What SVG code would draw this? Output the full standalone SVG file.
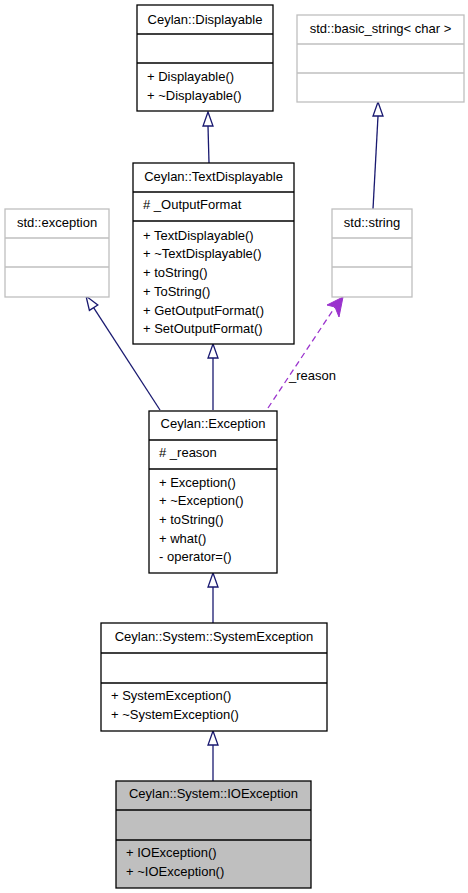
<svg xmlns="http://www.w3.org/2000/svg" width="468" height="893" viewBox="0 0 468 893">
<style>
text{font-family:"Liberation Sans",Arial,Helvetica,sans-serif;font-size:13px;fill:#000}
.t{text-anchor:middle}
.box{fill:#fff;stroke:#000;stroke-width:1.3}
.grey{fill:#fff;stroke:#bfbfbf;stroke-width:1.3}
.sel{fill:#bfbfbf;stroke:#000;stroke-width:1.3}
.sep{stroke:#000;stroke-width:1.3}
.gsep{stroke:#bfbfbf;stroke-width:1.3}
.e{fill:none;stroke:#191970;stroke-width:1.3}
.ah{fill:#fff;stroke:#191970;stroke-width:1.3}
.d{fill:none;stroke:#9a32cd;stroke-width:1.3;stroke-dasharray:6,4}
</style>
<rect width="468" height="893" fill="#fff"/>
<g id="connectors">
<path class="e" d="M209,163 L208,126"/>
<polygon class="ah" points="208,112 203,126 213,126"/>
<path class="e" d="M373,209 L378,116"/>
<polygon class="ah" points="378,102 373,116 383,116"/>
<path class="e" d="M160,410 L93.6,307.7"/>
<polygon class="ah" points="86,296 89.4,310.4 97.8,305"/>
<path class="e" d="M213,410 L213,358"/>
<polygon class="ah" points="213,344 208,358 218,358"/>
<path class="d" d="M268,408 L335,307"/>
<polygon points="343,297 327,305 335,307 339,317" fill="#9a32cd" stroke="#9a32cd" stroke-width="1" stroke-linejoin="miter"/>
<text x="289" y="380">_reason</text>
<path class="e" d="M213,623 L213,587"/>
<polygon class="ah" points="213,573 208,587 218,587"/>
<path class="e" d="M213,781 L213,745"/>
<polygon class="ah" points="213,731 208,745 218,745"/>
</g>
<g id="Displayable">
<rect class="box" x="137" y="5" width="136" height="106"/>
<line class="sep" x1="137" y1="34" x2="273" y2="34"/>
<line class="sep" x1="137" y1="63" x2="273" y2="63"/>
<text class="t" x="205" y="24">Ceylan::Displayable</text>
<text x="147" y="81">+ Displayable()</text>
<text x="147" y="100">+ ~Displayable()</text>
</g>
<g id="basic_string">
<rect class="grey" x="297" y="15" width="167" height="87"/>
<line class="gsep" x1="297" y1="44" x2="464" y2="44"/>
<line class="gsep" x1="297" y1="73" x2="464" y2="73"/>
<text class="t" x="380.5" y="33">std::basic_string&lt; char &gt;</text>
</g>
<g id="TextDisplayable">
<rect class="box" x="133" y="163" width="161" height="181"/>
<line class="sep" x1="133" y1="192" x2="294" y2="192"/>
<line class="sep" x1="133" y1="221" x2="294" y2="221"/>
<text class="t" x="213.5" y="181">Ceylan::TextDisplayable</text>
<text x="143" y="209"># _OutputFormat</text>
<text x="143" y="240">+ TextDisplayable()</text>
<text x="143" y="258">+ ~TextDisplayable()</text>
<text x="143" y="277">+ toString()</text>
<text x="143" y="296">+ ToString()</text>
<text x="143" y="315">+ GetOutputFormat()</text>
<text x="143" y="333">+ SetOutputFormat()</text>
</g>
<g id="exception">
<rect class="grey" x="5" y="209" width="104" height="88"/>
<line class="gsep" x1="5" y1="238" x2="109" y2="238"/>
<line class="gsep" x1="5" y1="267" x2="109" y2="267"/>
<text class="t" x="57" y="227">std::exception</text>
</g>
<g id="string">
<rect class="grey" x="332" y="209" width="80" height="88"/>
<line class="gsep" x1="332" y1="238" x2="412" y2="238"/>
<line class="gsep" x1="332" y1="267" x2="412" y2="267"/>
<text class="t" x="372" y="227">std::string</text>
</g>
<g id="Exception">
<rect class="box" x="149" y="411" width="128" height="162"/>
<line class="sep" x1="149" y1="440" x2="277" y2="440"/>
<line class="sep" x1="149" y1="469" x2="277" y2="469"/>
<text class="t" x="213" y="428">Ceylan::Exception</text>
<text x="159" y="457"># _reason</text>
<text x="159" y="487">+ Exception()</text>
<text x="159" y="505">+ ~Exception()</text>
<text x="159" y="524">+ toString()</text>
<text x="159" y="543">+ what()</text>
<text x="159" y="561">- operator=()</text>
</g>
<g id="SystemException">
<rect class="box" x="101" y="623" width="226" height="108"/>
<line class="sep" x1="101" y1="653" x2="327" y2="653"/>
<line class="sep" x1="101" y1="683" x2="327" y2="683"/>
<text class="t" x="214" y="641">Ceylan::System::SystemException</text>
<text x="111" y="700">+ SystemException()</text>
<text x="111" y="719">+ ~SystemException()</text>
</g>
<g id="IOException">
<rect class="sel" x="116" y="781" width="195" height="107"/>
<line class="sep" x1="116" y1="810" x2="311" y2="810"/>
<line class="sep" x1="116" y1="840" x2="311" y2="840"/>
<text class="t" x="213.5" y="798">Ceylan::System::IOException</text>
<text x="126" y="857">+ IOException()</text>
<text x="126" y="876">+ ~IOException()</text>
</g>
</svg>
